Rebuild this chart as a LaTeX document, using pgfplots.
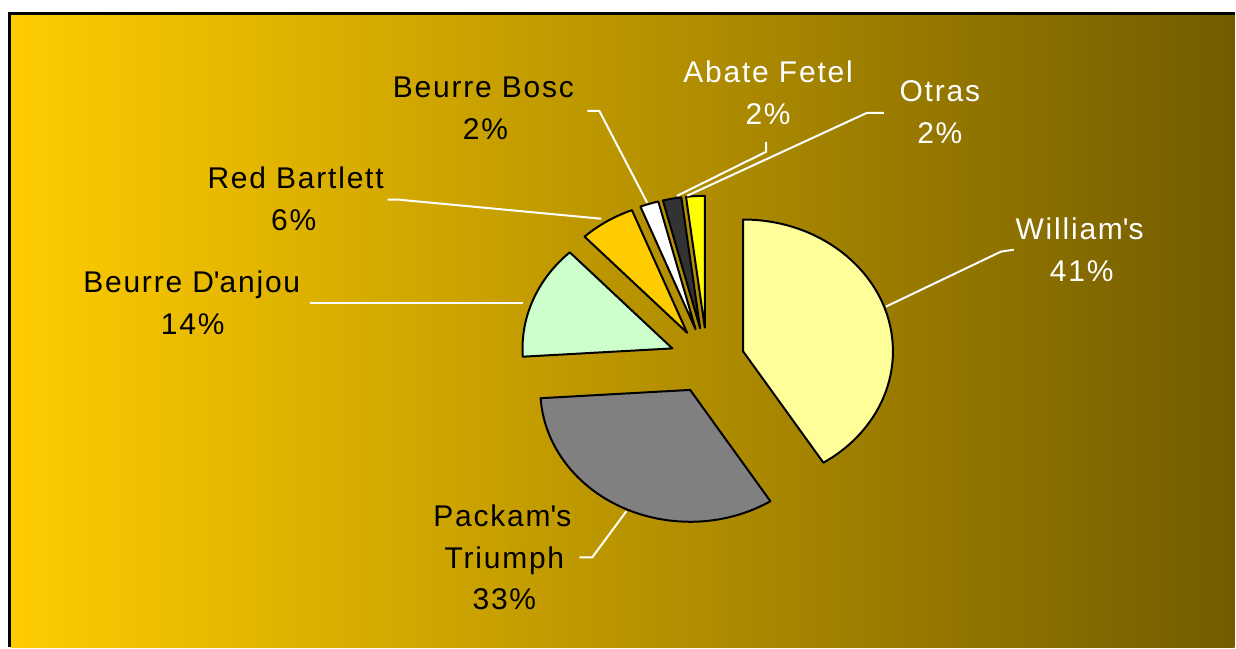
\documentclass[border=0pt]{standalone}
\usepackage{pgfplots}
\pgfplotsset{compat=1.18}
\usepackage{fontspec}
\setmainfont{Liberation Sans}[LetterSpace=6]
\definecolor{bgL}{HTML}{FFCC00}
\definecolor{bgR}{HTML}{735C00}
\definecolor{cWill}{HTML}{FFFF99}
\definecolor{cPack}{HTML}{808080}
\definecolor{cDanj}{HTML}{CCFFCC}
\definecolor{cRed}{HTML}{FFCC00}
\definecolor{cBosc}{HTML}{FFFFFF}
\definecolor{cAbate}{HTML}{333333}
\definecolor{cOtras}{HTML}{FFFF00}
\tikzset{lbl/.style={font=\fontsize{30}{36}\selectfont, anchor=base, inner sep=0pt}}
% pie geometry (pixels): centre, radii, explode offset
\def\cx{708}\def\cy{-361}\def\rx{150}\def\ry{132}
\def\cum{0}
\newcommand\slice[2]{% value in percent, colour
  \pgfmathsetmacro\ps{90-3.6*\cum}%
  \pgfmathsetmacro\newcum{\cum+#1}%
  \xdef\cum{\newcum}%
  \pgfmathsetmacro\pe{90-3.6*\cum}%
  \pgfmathsetmacro\pmid{(\ps+\pe)/2}%
  \pgfmathsetmacro\ax{\cx+0.25*\rx*cos(\pmid)}%
  \pgfmathsetmacro\ay{\cy+0.25*\ry*sin(\pmid)}%
  \pgfmathsetmacro\sx{\ax+\rx*cos(\ps)}%
  \pgfmathsetmacro\sy{\ay+\ry*sin(\ps)}%
  \edef\tmp{\noexpand\filldraw[fill=#2,draw=black,line width=2pt,line join=round] (axis cs:\ax,\ay) -- (axis cs:\sx,\sy) arc[start angle=\ps,end angle=\pe,x radius=\rx,y radius=\ry] -- cycle;}%
  \tmp}
\begin{document}
\begin{tikzpicture}
\begin{axis}[
  x=1pt, y=1pt, xmin=0, xmax=1236, ymin=-648, ymax=0,
  scale only axis, hide axis, clip=false,
]
\path (axis cs:0,0) rectangle (axis cs:1236,-648);
\fill[left color=bgL, right color=bgR] (axis cs:11,-15) rectangle (axis cs:1236,-648);
\draw[line width=3pt] (axis cs:9.5,-648) -- (axis cs:9.5,-13.5) -- (axis cs:1236,-13.5);
% slices: William's, Packam's Triumph, Beurre D'anjou, Red Bartlett, Beurre Bosc, Abate Fetel, Otras
\slice{41}{cWill}
\slice{33}{cPack}
\slice{14}{cDanj}
\slice{6}{cRed}
\slice{2}{cBosc}
\slice{2}{cAbate}
\slice{2}{cOtras}
% leader lines
\draw[white, line width=2pt] (axis cs:588,-111) -- (axis cs:600,-111) -- (axis cs:648,-203);
\draw[white, line width=2pt] (axis cs:767,-142) -- (axis cs:767,-152) -- (axis cs:678,-196);
\draw[white, line width=2pt] (axis cs:885,-113) -- (axis cs:868,-113) -- (axis cs:688,-196);
\draw[white, line width=2pt] (axis cs:388,-200) -- (axis cs:400,-200) -- (axis cs:602,-219);
\draw[white, line width=2pt] (axis cs:310,-303) -- (axis cs:524,-303);
\draw[white, line width=2pt] (axis cs:1015,-250) -- (axis cs:1002,-252) -- (axis cs:887,-307);
\draw[white, line width=2pt] (axis cs:580,-558) -- (axis cs:593,-558) -- (axis cs:627,-512);
% labels
\node[lbl] at (axis cs:484,-98) {Beurre Bosc};
\node[lbl] at (axis cs:486,-140) {2\%};
\node[lbl,white] at (axis cs:769,-83) {Abate Fetel};
\node[lbl,white] at (axis cs:769,-125) {2\%};
\node[lbl,white] at (axis cs:941,-102) {Otras};
\node[lbl,white] at (axis cs:941,-144) {2\%};
\node[lbl] at (axis cs:296,-189) {Red Bartlett};
\node[lbl] at (axis cs:294,-231) {6\%};
\node[lbl] at (axis cs:192,-293) {Beurre D\textquotesingle anjou};
\node[lbl] at (axis cs:193,-335) {14\%};
\node[lbl,white] at (axis cs:1081,-240) {William\textquotesingle s};
\node[lbl,white] at (axis cs:1083,-282) {41\%};
\node[lbl] at (axis cs:503,-527) {Packam\textquotesingle s};
\node[lbl] at (axis cs:505,-569) {Triumph};
\node[lbl] at (axis cs:505,-610) {33\%};
\end{axis}
\end{tikzpicture}
\end{document}
